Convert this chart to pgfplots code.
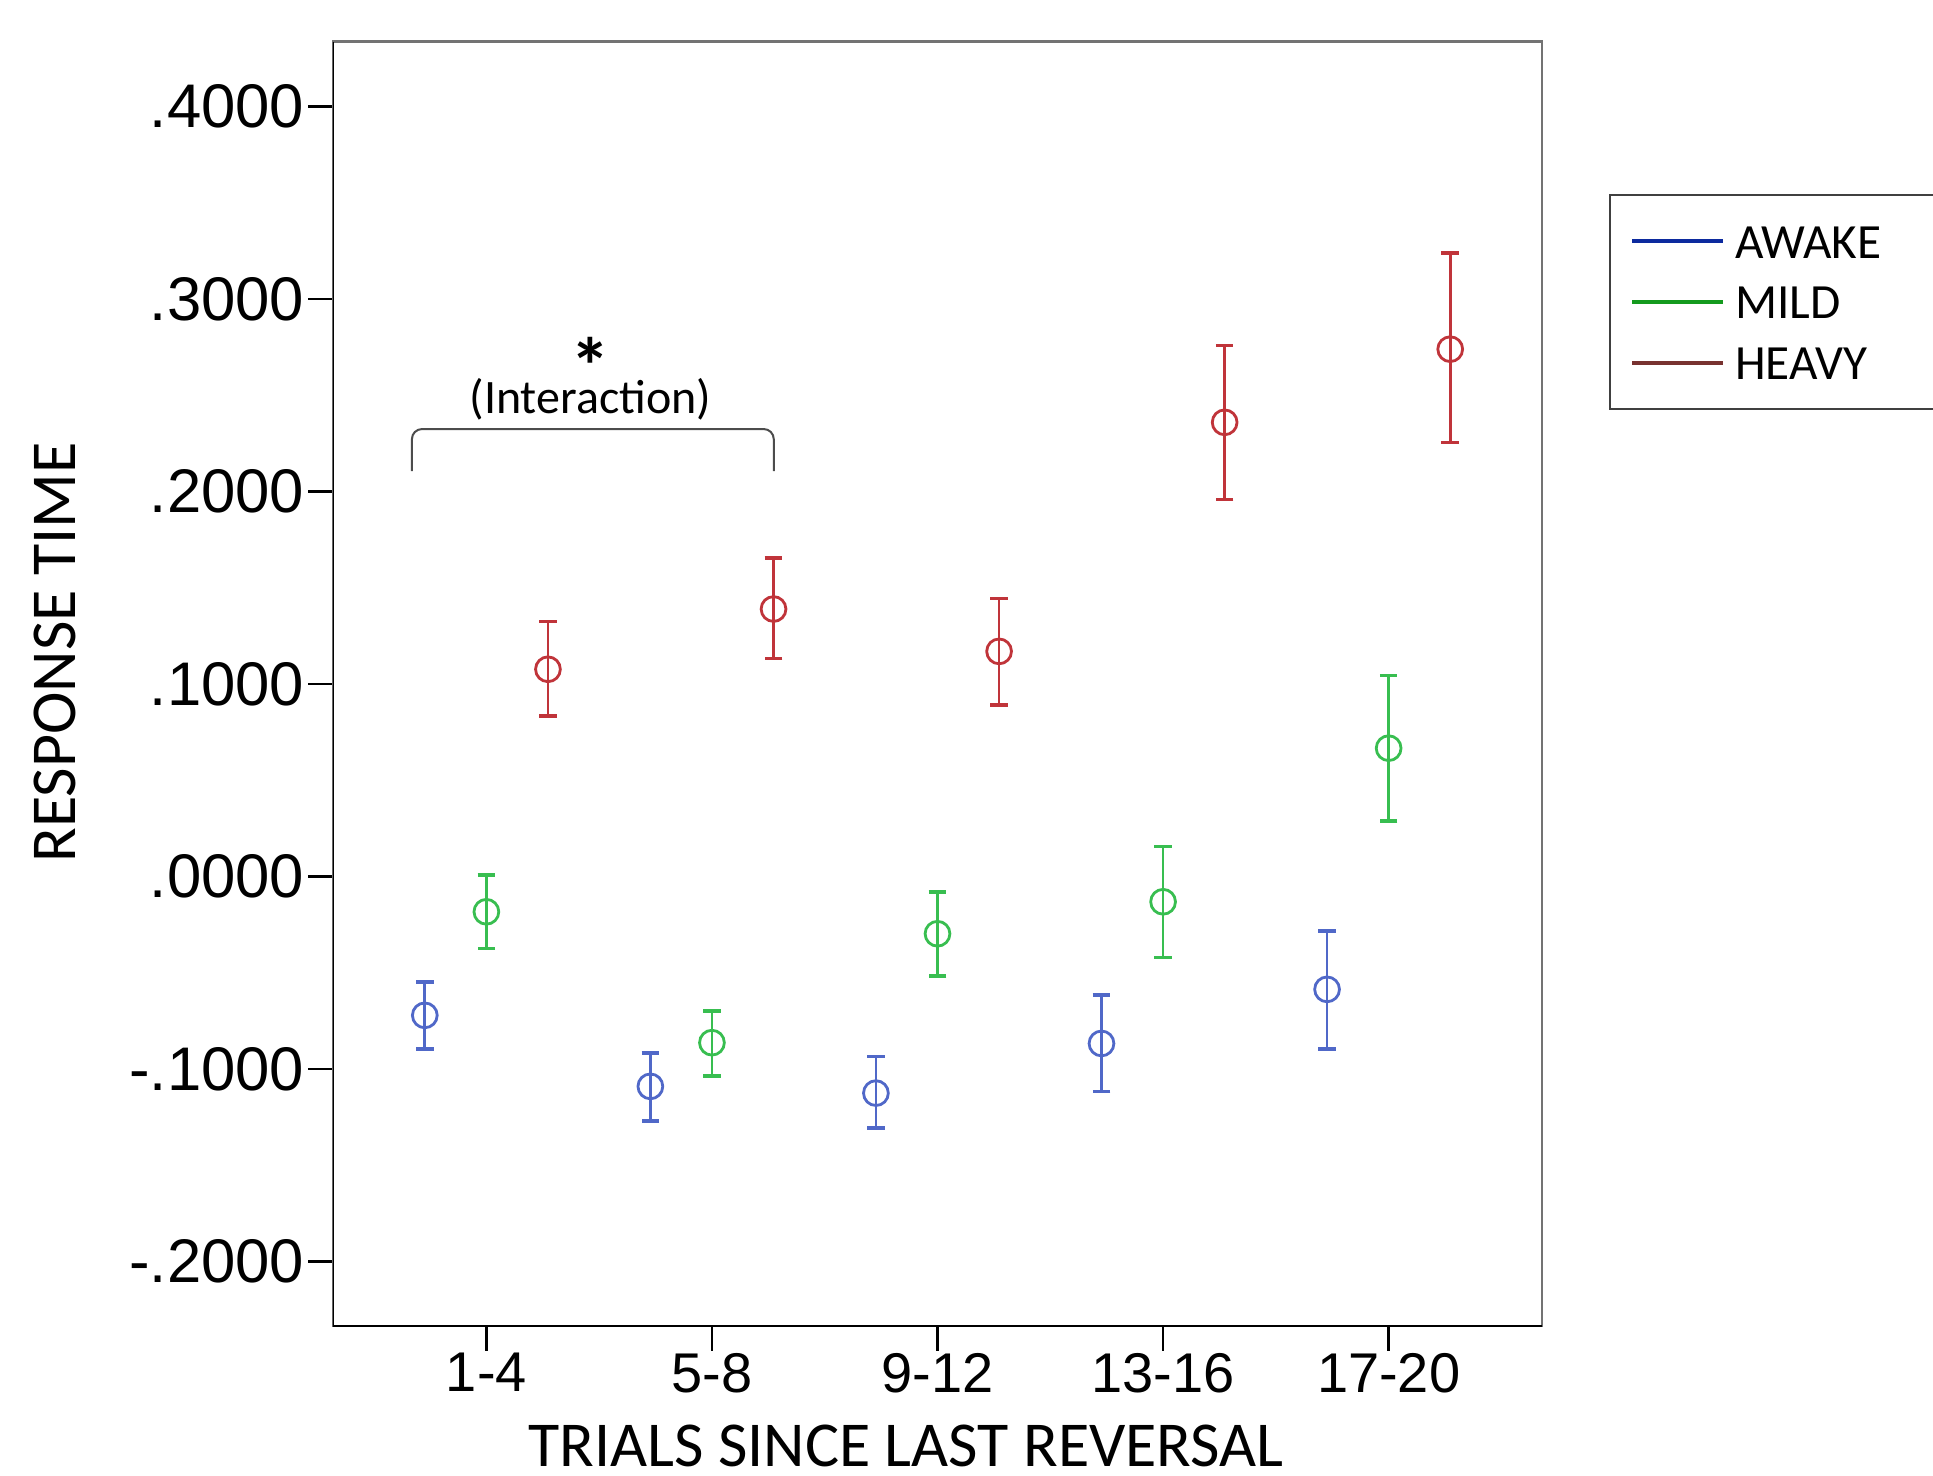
\documentclass[border=0pt]{standalone}
\usepackage{fontspec}
\setmainfont{Liberation Sans}
\newfontfamily\calibri{Carlito}
\usepackage{pgfplots}
\usepackage{pgfplotstable}
\pgfplotsset{compat=1.18}

\definecolor{cawake}{HTML}{5068C8}
\definecolor{cmild}{HTML}{38BE50}
\definecolor{cheavy}{HTML}{C0343A}
\definecolor{lawake}{HTML}{0C2A9E}
\definecolor{lmild}{HTML}{149A1E}
\definecolor{lheavy}{HTML}{783230}

% x  y  ep (up)  em (down)
\pgfplotstableread{
x      y       ep      em
-0.273 -0.0721 0.0173 0.0174
0.727  -0.1090 0.0173 0.0179
1.727  -0.1125 0.0190 0.0182
2.727  -0.0867 0.0252 0.0250
3.727  -0.0586 0.0304 0.0309
}\awake
\pgfplotstableread{
x      y       ep      em
0      -0.0183 0.0191 0.0191
1      -0.0863 0.0166 0.0172
2      -0.0297 0.0217 0.0221
3      -0.0131 0.0288 0.0289
4       0.0667 0.0378 0.0377
}\mild
\pgfplotstableread{
x      y       ep      em
0.273  0.1077  0.0248 0.0242
1.273  0.1390  0.0264 0.0257
2.273  0.1170  0.0275 0.0280
3.273  0.2360  0.0400 0.0400
4.273  0.2740  0.0500 0.0485
}\heavy

\pgfplotsset{
  ebar/.style={only marks, mark=o, mark size=3.1pt, line width=0.7pt, forget plot,
    error bars/y dir=both, error bars/y explicit,
    error bars/error mark options={rotate=90, mark size=2.2pt, line width=0.9pt},
    error bars/error bar style={line width=0.7pt}},
}

\begin{document}
\begin{tikzpicture}
\useasboundingbox (-83.25pt,-37.25pt) rectangle (400pt,331.5pt);
\begin{axis}[
    at={(0,0)}, anchor=south west,
    scale only axis,
    width=302.25pt, height=321.1pt,
    xmin=-0.68, xmax=4.68,
    ymin=-0.2335, ymax=0.4338,
    xtick={0,1,2,3,4},
    xticklabels={1-4,5-8,9-12,13-16,17-20},
    ytick={-0.2,-0.1,0,0.1,0.2,0.3,0.4},
    yticklabels={-.2000,-.1000,.0000,.1000,.2000,.3000,.4000},
    xtick pos=bottom, ytick pos=left,
    tick align=outside,
    major tick length=6.2pt,
    tick style={black, line width=0.6pt},
    xticklabel style={font=\fontsize{14}{14}\selectfont, yshift=3pt},
    yticklabel style={font=\fontsize{15.4}{15.4}\selectfont, xshift=2.5pt},
    axis line style={draw=gray!90!black, line width=0.6pt},
    xlabel={TRIALS SINCE LAST REVERSAL},
    ylabel={RESPONSE TIME},
    every axis x label/.style={at={(axis description cs:0.474,-0.1095)}, anchor=base,
      font=\calibri\fontsize{16}{16}\selectfont},
    every axis y label/.style={at={(axis description cs:-0.2126,0.5243)}, rotate=90, anchor=base,
      font=\calibri\fontsize{16}{16}\selectfont},
    legend style={at={(1.0554,0.8813)}, anchor=north west,
      draw=black!75, line width=0.6pt,
      inner xsep=5pt, inner ysep=5.3pt, row sep=2.8pt,
      font=\calibri\fontsize{12.3}{12.3}\selectfont,
      nodes={inner sep=0pt, text height=10.4pt, text depth=2pt}},
    legend cell align=left,
    legend image code/.code={\draw[#1, line width=1.1pt] (0pt,0pt) -- (22.75pt,0pt);},
]
\addlegendimage{lawake}
\addlegendentry{\hspace*{2.4pt}AWAKE\hspace*{20pt}}
\addlegendimage{lmild}
\addlegendentry{\hspace*{2.4pt}MILD}
\addlegendimage{lheavy}
\addlegendentry{\hspace*{2.4pt}HEAVY}

\addplot[color=cawake, ebar] table[x=x, y=y, y error plus=ep, y error minus=em] {\awake};
\addplot[color=cmild, ebar] table[x=x, y=y, y error plus=ep, y error minus=em] {\mild};
\addplot[color=cheavy, ebar] table[x=x, y=y, y error plus=ep, y error minus=em] {\heavy};

% black left and bottom lines
\draw[black, line width=0.6pt] (rel axis cs:0,1) -- (rel axis cs:0,0) -- (rel axis cs:1,0);

% interaction bracket
\draw[black!70, line width=0.5pt, rounded corners=2.5pt]
  (axis cs:-0.33,0.2107) -- (axis cs:-0.33,0.2325) -- (axis cs:1.274,0.2325) -- (axis cs:1.274,0.2107);
\node[anchor=base, font=\calibri\fontsize{12}{12}\selectfont] at (axis cs:0.461,0.2408) {(Interaction)};
\node[inner sep=0pt, font=\calibri\bfseries\fontsize{20}{20}\selectfont, yshift=-2pt] at (axis cs:0.461,0.2693) {*};
\end{axis}
\end{tikzpicture}
\end{document}
